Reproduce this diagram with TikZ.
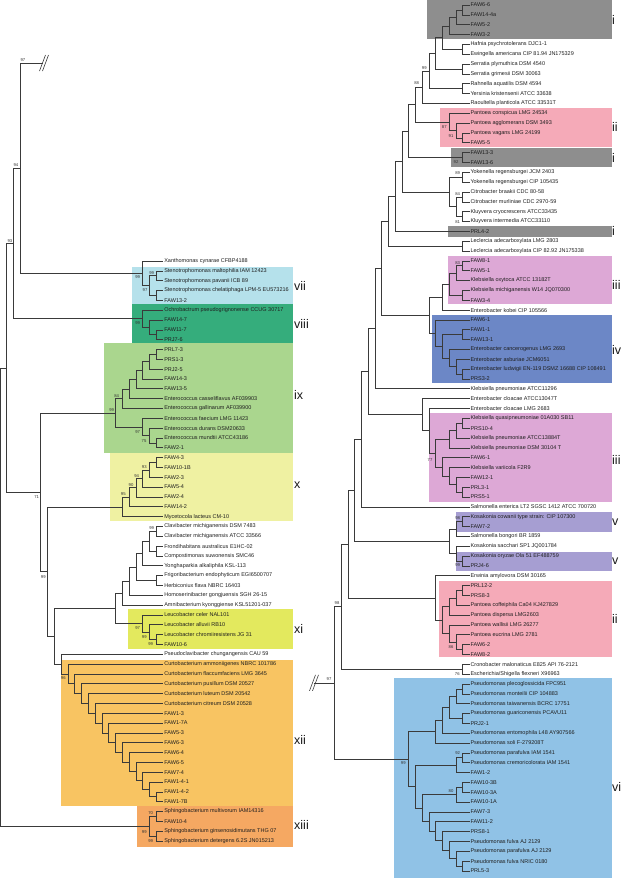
\documentclass[tikz,border=0pt]{standalone}
\usepackage{fontspec}
\setmainfont{Liberation Sans}
\usetikzlibrary{calc}
\definecolor{cI}{HTML}{8E8E8E}
\definecolor{cII}{HTML}{F5AAB8}
\definecolor{cIII}{HTML}{DDA8D6}
\definecolor{cIV}{HTML}{6C87C6}
\definecolor{cV}{HTML}{A69ED2}
\definecolor{cVI}{HTML}{90C2E6}
\definecolor{cVII}{HTML}{B5E1EB}
\definecolor{cVIII}{HTML}{35AD7C}
\definecolor{cIX}{HTML}{AAD68E}
\definecolor{cX}{HTML}{EFF1A2}
\definecolor{cXI}{HTML}{E3E95E}
\definecolor{cXII}{HTML}{F8C462}
\definecolor{cXIII}{HTML}{F5A862}
\definecolor{lnc}{HTML}{3A3A3A}
\newcommand\ND[4]{%
  \path let \p1=(#3),\p2=(#4) in ({(#2)*1pt},{0.5*(\y1+\y2)}) coordinate (#1);
  \draw[br] (#1) |- (#3) (#1) |- (#4);}
\newcommand\NL[4]{\ND{#1}{163.1-6.8*#2}{#3}{#4}}
\newcommand\NR[4]{\ND{#1}{469.3-6.75*#2}{#3}{#4}}
\newcommand\LL[2]{\node[lf] (L#1) at (163.3,{261+(#1-1)*9.83}) {#2};}
\newcommand\RL[2]{\node[lf] (R#1) at (469.5,{5+(#1-1)*9.84}) {#2};}
\newcounter{bsc}
\newcommand\BS[3]{\stepcounter{bsc}\node[bs] (bs\arabic{bsc}) at (#1,#2) {#3};}
\newcommand\BX[6]{\fill[#6] (#2,#3) rectangle (#4,#5) coordinate (#1);}
\begin{document}
\begin{tikzpicture}[x=1pt,y=-1pt,
  br/.style={line width=0.6pt, draw=lnc},
  lf/.style={anchor=west, inner sep=0.8pt, font=\fontsize{5.5}{6}\selectfont, text=black!88},
  bs/.style={font=\fontsize{4.2}{4.5}\selectfont, inner sep=0pt, text=black!80},
  rom/.style={anchor=west, inner sep=0pt, font=\fontsize{12.5}{13}\selectfont, text=black!90},
  brk/.style={line width=0.6pt, draw=lnc}]
\useasboundingbox (0,0) rectangle (622,878);
% ---------- boxes left
\BX{bvii}{132}{266.7}{293}{304.3}{cVII}
\BX{bviii}{132}{304.3}{293}{343.3}{cVIII}
\BX{bix}{104.3}{343.3}{293}{452.7}{cIX}
\BX{bx}{110}{452.7}{293}{520.7}{cX}
\BX{bxi}{127.7}{609.3}{293}{648.5}{cXI}
\BX{bxii}{61}{660}{293}{806}{cXII}
\BX{bxiii}{136.7}{806}{293}{847.3}{cXIII}
% ---------- boxes right
\BX{bi1}{427}{0}{611.7}{39}{cI}
\BX{bii1}{439.5}{107.7}{611.7}{146.7}{cII}
\BX{bi2}{450.7}{147.7}{611.7}{167.3}{cI}
\BX{bi3}{447.7}{226}{611.7}{236.7}{cI}
\BX{biii1}{447.7}{256}{611.7}{304}{cIII}
\BX{biv}{432.3}{315}{611.7}{383.3}{cIV}
\BX{biii2}{429.3}{412.7}{611.7}{501.7}{cIII}
\BX{bv1}{456}{511.7}{611.7}{531.7}{cV}
\BX{bv2}{456}{551.5}{611.7}{571}{cV}
\BX{bii2}{439.3}{580.7}{611.7}{656.7}{cII}
\BX{bvi}{394}{678.3}{611.7}{878}{cVI}
% ---------- left leaves
\LL{1}{Xanthomonas cynarae CFBP4188}
\LL{2}{Stenotrophomonas maltophilia IAM 12423}
\LL{3}{Stenotrophomonas pavanii ICB 89}
\LL{4}{Stenotrophomonas chelatiphaga LPM-5 EU573216}
\LL{5}{FAW13-2}
\LL{6}{Ochrobactrum pseudogrignonense CCUG 30717}
\LL{7}{FAW14-7}
\LL{8}{FAW11-7}
\LL{9}{PRJ7-6}
\LL{10}{PRL7-3}
\LL{11}{PRS1-3}
\LL{12}{PRJ2-5}
\LL{13}{FAW14-3}
\LL{14}{FAW13-5}
\LL{15}{Enterococcus casseliflavus AF039903}
\LL{16}{Enterococcus gallinarum AF039900}
\LL{17}{Enterococcus faecium LMG 11423}
\LL{18}{Enterococcus durans DSM20633}
\LL{19}{Enterococcus mundtii ATCC43186}
\LL{20}{FAW2-1}
\LL{21}{FAW4-3}
\LL{22}{FAW10-1B}
\LL{23}{FAW2-3}
\LL{24}{FAW5-4}
\LL{25}{FAW2-4}
\LL{26}{FAW14-2}
\LL{27}{Mycetocola lacteus CM-10}
\LL{28}{Clavibacter michiganensis DSM 7483}
\LL{29}{Clavibacter michiganensis ATCC 33566}
\LL{30}{Frondihabitans australicus E1HC-02}
\LL{31}{Compostimonas suwonensis SMC46}
\LL{32}{Yonghaparkia alkaliphila KSL-113}
\LL{33}{Frigoribacterium endophyticum EGI6500707}
\LL{34}{Herbiconiux flava NBRC 16403}
\LL{35}{Homoserinibacter gongjuensis SGH 26-15}
\LL{36}{Amnibacterium kyonggiense KSL51201-037}
\LL{37}{Leucobacter celer NAL101}
\LL{38}{Leucobacter alluvii RB10}
\LL{39}{Leucobacter chromiiresistens JG 31}
\LL{40}{FAW10-6}
\LL{41}{Pseudoclavibacter chungangensis CAU 59}
\LL{42}{Curtobacterium ammoniigenes NBRC 101786}
\LL{43}{Curtobacterium flaccumfaciens LMG 3645}
\LL{44}{Curtobacterium pusillum DSM 20527}
\LL{45}{Curtobacterium luteum DSM 20542}
\LL{46}{Curtobacterium citreum DSM 20528}
\LL{47}{FAW1-3}
\LL{48}{FAW1-7A}
\LL{49}{FAW5-3}
\LL{50}{FAW6-3}
\LL{51}{FAW6-4}
\LL{52}{FAW6-5}
\LL{53}{FAW7-4}
\LL{54}{FAW1-4-1}
\LL{55}{FAW1-4-2}
\LL{56}{FAW1-7B}
\LL{57}{Sphingobacterium multivorum IAM14316}
\LL{58}{FAW10-4}
\LL{59}{Sphingobacterium ginsenosidimutans THG 07}
\LL{60}{Sphingobacterium detergens 6.2S JN015213}
% ---------- left tree
\NL{a1}{1}{L2}{L3}
\NL{a2}{1}{L4}{L5}
\NL{a3}{2}{a1}{a2}
\NL{a4}{3}{L1}{a3}
\NL{b1}{1}{L8}{L9}
\NL{b2}{2}{L7}{b1}
\NL{b3}{3}{L6}{b2}
\NL{c1}{1}{L10}{L11}
\NL{c2}{2}{c1}{L12}
\NL{c3}{3}{c2}{L13}
\NL{c4}{4}{c3}{L14}
\NL{c5}{5}{c4}{L15}
\NL{c6}{6}{c5}{L16}
\NL{c7}{1}{L19}{L20}
\NL{c8}{2}{L18}{c7}
\NL{c9}{3}{L17}{c8}
\NL{c10}{7}{c6}{c9}
\NL{d1}{1}{L21}{L22}
\NL{d2}{2}{d1}{L23}
\NL{d3}{3}{d2}{L24}
\NL{d4}{4}{d3}{L25}
\NL{d5}{5}{d4}{L26}
\NL{d6}{6}{d5}{L27}
\NL{e1}{1}{L28}{L29}
\NL{e2}{1}{L30}{L31}
\NL{e3}{2}{e1}{e2}
\NL{e4}{3}{e3}{L32}
\NL{e5}{1}{L33}{L34}
\NL{e6}{4}{e4}{e5}
\NL{e7}{5}{e6}{L35}
\NL{e8}{6}{e7}{L36}
\NL{f1}{1}{L39}{L40}
\NL{f2}{2}{L38}{f1}
\NL{f3}{3}{L37}{f2}
\NL{f4}{7}{e8}{f3}
\NL{g14}{1}{L55}{L56}
\NL{g13}{2}{L54}{g14}
\NL{g12}{3}{L53}{g13}
\NL{g11}{4}{L52}{g12}
\NL{g10}{5}{L51}{g11}
\NL{g9}{6}{L50}{g10}
\NL{g8}{7}{L49}{g9}
\NL{g7}{8}{L48}{g8}
\NL{g6}{9}{L47}{g7}
\NL{g5}{10}{L46}{g6}
\NL{g4}{11}{L45}{g5}
\NL{g3}{12}{L44}{g4}
\NL{g2}{13}{L43}{g3}
\NL{g1}{14}{L42}{g2}
\NL{g0}{15}{L41}{g1}
\NL{h1}{16}{f4}{g0}
\NL{h2}{17}{d6}{h1}
\NL{h3}{18}{c10}{h2}
\NL{i1}{1}{L57}{L58}
\NL{i2}{1}{L59}{L60}
\NL{i3}{2}{i1}{i2}
\coordinate (brkL) at (43,63);
\NL{m97}{21}{brkL}{a4}
\NL{m94}{22}{m97}{b3}
\NL{m93}{23}{m94}{h3}
\ND{rootL}{0.5}{m93}{i3}
\draw[brk] ([shift={(-3.5,8)}]brkL) -- ([shift={(2.5,-8)}]brkL)
           ([shift={(-0.5,8)}]brkL) -- ([shift={(5.5,-8)}]brkL);
% ---------- right leaves
\RL{1}{FAW6-6}
\RL{2}{FAW14-4a}
\RL{3}{FAW5-2}
\RL{4}{FAW3-2}
\RL{5}{Hafnia psychrotolerans DJC1-1}
\RL{6}{Ewingella americana CIP 81.94 JN175329}
\RL{7}{Serratia plymuthica DSM 4540}
\RL{8}{Serratia grimesii DSM 30063}
\RL{9}{Rahnella aquatilis DSM 4594}
\RL{10}{Yersinia kristensenii ATCC 33638}
\RL{11}{Raoultella planticola ATCC 33531T}
\RL{12}{Pantoea conspicua LMG 24534}
\RL{13}{Pantoea agglomerans DSM 3493}
\RL{14}{Pantoea vagans LMG 24199}
\RL{15}{FAW5-5}
\RL{16}{FAW13-3}
\RL{17}{FAW13-6}
\RL{18}{Yokenella regensburgei JCM 2403}
\RL{19}{Yokenella regensburgei CIP 105435}
\RL{20}{Citrobacter braakii CDC 80-58}
\RL{21}{Citrobacter murliniae CDC 2970-59}
\RL{22}{Kluyvera cryocrescens ATCC33435}
\RL{23}{Kluyvera intermedia ATCC33110}
\RL{24}{PRL4-2}
\RL{25}{Leclercia adecarboxylata LMG 2803}
\RL{26}{Leclercia adecarboxylata CIP 82.92 JN175338}
\RL{27}{FAW8-1}
\RL{28}{FAW5-1}
\RL{29}{Klebsiella oxytoca ATCC 13182T}
\RL{30}{Klebsiella michiganensis W14 JQ070300}
\RL{31}{FAW3-4}
\RL{32}{Enterobacter kobei CIP 105566}
\RL{33}{FAW6-1}
\RL{34}{FAW1-1}
\RL{35}{FAW13-1}
\RL{36}{Enterobacter cancerogenus LMG 2693}
\RL{37}{Enterobacter asburiae JCM6051}
\RL{38}{Enterobacter ludwigii EN-119 DSMZ 16688 CIP 108491}
\RL{39}{PRS3-2}
\RL{40}{Klebsiella pneumoniae ATCC11296}
\RL{41}{Enterobacter cloacae ATCC13047T}
\RL{42}{Enterobacter cloacae LMG 2683}
\RL{43}{Klebsiella quasipneumoniae 01A030 SB11}
\RL{44}{PRS10-4}
\RL{45}{Klebsiella pneumoniae ATCC13884T}
\RL{46}{Klebsiella pneumoniae DSM 30104 T}
\RL{47}{FAW6-1}
\RL{48}{Klebsiella variicola F2R9}
\RL{49}{FAW12-1}
\RL{50}{PRL3-1}
\RL{51}{PRS5-1}
\RL{52}{Salmonella enterica LT2 SGSC 1412 ATCC 700720}
\RL{53}{Kosakonia cowanii type strain: CIP 107300}
\RL{54}{FAW7-2}
\RL{55}{Salmonella bongori BR 1859}
\RL{56}{Kosakonia sacchari SP1 JQ001784}
\RL{57}{Kosakonia oryzae Ola 51 EF488759}
\RL{58}{PRJ4-6}
\RL{59}{Erwinia amylovora DSM 30165}
\RL{60}{PRL12-2}
\RL{61}{PRS8-3}
\RL{62}{Pantoea coffeiphila Ca04 KJ427829}
\RL{63}{Pantoea dispersa LMG2603}
\RL{64}{Pantoea wallisii LMG 26277}
\RL{65}{Pantoea eucrina LMG 2781}
\RL{66}{FAW6-2}
\RL{67}{FAW8-2}
\RL{68}{Cronobacter malonaticus E825 API 76-2121}
\RL{69}{Escherichia/Shigella flexneri X96963}
\RL{70}{Pseudomonas plecoglossicida FPC951}
\RL{71}{Pseudomonas monteilii CIP 104883}
\RL{72}{Pseudomonas taiwanensis BCRC 17751}
\RL{73}{Pseudomonas guariconensis PCAVU11}
\RL{74}{PRJ2-1}
\RL{75}{Pseudomonas entomophila L48 AY907566}
\RL{76}{Pseudomonas soli F-279208T}
\RL{77}{Pseudomonas parafulva IAM 1541}
\RL{78}{Pseudomonas cremoricolorata IAM 1541}
\RL{79}{FAW1-2}
\RL{80}{FAW10-3B}
\RL{81}{FAW10-3A}
\RL{82}{FAW10-1A}
\RL{83}{FAW7-3}
\RL{84}{FAW11-2}
\RL{85}{PRS8-1}
\RL{86}{Pseudomonas fulva AJ 2129}
\RL{87}{Pseudomonas parafulva AJ 2129}
\RL{88}{Pseudomonas fulva NRIC 0180}
\RL{89}{PRL5-3}
% ---------- right tree
\NR{p1}{1}{R1}{R2}
\NR{p2}{2}{p1}{R3}
\NR{p3}{3}{p2}{R4}
\NR{p4}{1}{R5}{R6}
\NR{p5}{4}{p3}{p4}
\NR{p6}{1}{R7}{R8}
\NR{p7}{5}{p5}{p6}
\NR{p8}{1}{R9}{R10}
\NR{p9}{6}{p7}{p8}
\NR{p10}{7}{p9}{R11}
\NR{q1}{1}{R14}{R15}
\NR{q2}{2}{R13}{q1}
\NR{q3}{3}{R12}{q2}
\NR{p11}{8}{p10}{q3}
\NR{r1}{1}{R16}{R17}
\NR{p12}{9}{p11}{r1}
\NR{s1}{1}{R18}{R19}
\NR{s2}{1}{R20}{R21}
\NR{s3}{1}{R22}{R23}
\NR{s4}{2}{s2}{s3}
\NR{s5}{3}{s1}{s4}
\NR{p13}{10}{p12}{s5}
\NR{p14}{11}{p13}{R24}
\NR{t1}{1}{R25}{R26}
\NR{p15}{12}{p14}{t1}
\NR{u1}{1}{R27}{R28}
\NR{u2}{2}{u1}{R29}
\NR{u3}{1}{R30}{R31}
\NR{u4}{3}{u2}{u3}
\NR{u5}{4}{u4}{R32}
\NR{v1}{1}{R34}{R35}
\NR{v2}{1}{R38}{R39}
\NR{v3}{2}{R37}{v2}
\NR{v4}{3}{R36}{v3}
\NR{v5}{4}{v1}{v4}
\NR{v6}{5}{R33}{v5}
\NR{u6}{6}{u5}{v6}
\NR{p16}{13}{p15}{u6}
\NR{p17}{14}{p16}{R40}
\NR{w1}{1}{R43}{R44}
\NR{w2}{2}{w1}{R45}
\NR{w3}{3}{w2}{R46}
\NR{w4}{1}{R50}{R51}
\NR{w5}{2}{R49}{w4}
\NR{w6}{3}{R48}{w5}
\NR{w7}{4}{R47}{w6}
\NR{w8}{5}{w3}{w7}
\NR{w9}{6}{R42}{w8}
\NR{w10}{7}{R41}{w9}
\NR{p18}{15}{p17}{w10}
\NR{p19}{16}{p18}{R52}
\NR{x1}{1}{R53}{R54}
\NR{x2}{2}{x1}{R55}
\NR{x3}{1}{R57}{R58}
\NR{x4}{2}{R56}{x3}
\NR{x5}{3}{x2}{x4}
\NR{p20}{17}{p19}{x5}
\NR{y1}{1}{R60}{R61}
\NR{y2}{2}{y1}{R62}
\NR{y3}{3}{y2}{R63}
\NR{y4}{1}{R66}{R67}
\NR{y5}{2}{R65}{y4}
\NR{y6}{3}{R64}{y5}
\NR{y7}{4}{y3}{y6}
\NR{y8}{5}{R59}{y7}
\NR{p21}{18}{p20}{y8}
\NR{z1}{1}{R68}{R69}
\NR{p22}{19}{p21}{z1}
\NR{aa1}{1}{R70}{R71}
\NR{aa2}{2}{aa1}{R72}
\NR{aa3}{1}{R73}{R74}
\NR{aa4}{3}{aa2}{aa3}
\NR{aa5}{4}{aa4}{R75}
\NR{aa6}{5}{aa5}{R76}
\NR{bb1}{1}{R77}{R78}
\NR{bb2}{2}{bb1}{R79}
\NR{cc1}{1}{R80}{R81}
\NR{cc2}{2}{cc1}{R82}
\NR{dd1}{1}{R88}{R89}
\NR{dd2}{2}{R87}{dd1}
\NR{dd3}{3}{R86}{dd2}
\NR{dd4}{4}{R85}{dd3}
\NR{dd5}{5}{R84}{dd4}
\NR{dd6}{6}{R83}{dd5}
\NR{cc3}{7}{cc2}{dd6}
\NR{bb3}{8}{bb2}{cc3}
\NR{vi}{9}{aa6}{bb3}
\NR{p23}{20}{p22}{vi}
\coordinate (xRb) at (314,0);
\coordinate (brkR) at (p23 -| xRb);
\draw[br] (brkR) -- (p23);
\draw[brk] ([shift={(-4.5,8)}]brkR) -- ([shift={(1.5,-8)}]brkR)
           ([shift={(-1.5,8)}]brkR) -- ([shift={(4.5,-8)}]brkR);
% ---------- bootstrap values left
\BS{23}{60}{97}
\BS{16}{165}{94}
\BS{10}{241}{93}
\BS{151.7}{272.7}{99}
\BS{137.7}{277.5}{99}
\BS{145}{290}{97}
\BS{137.7}{323.3}{99}
\BS{116.7}{395.7}{84}
\BS{111.7}{410}{99}
\BS{137.7}{431.7}{97}
\BS{144}{441}{75}
\BS{144.3}{466.7}{93}
\BS{136.7}{475.7}{94}
\BS{131}{485}{90}
\BS{123.3}{494}{95}
\BS{36.7}{496.7}{71}
\BS{151.7}{528.3}{99}
\BS{43.3}{576.7}{99}
\BS{137.7}{628.3}{97}
\BS{144.3}{636.7}{99}
\BS{150.7}{644}{99}
\BS{63.3}{678.3}{96}
\BS{150.7}{813.3}{70}
\BS{144.3}{831.7}{99}
\BS{150.7}{841}{99}
% ---------- bootstrap values right
\BS{424.3}{68.3}{99}
\BS{416.7}{83.3}{88}
\BS{444.3}{126.7}{87}
\BS{451}{136}{91}
\BS{456}{161.7}{92}
\BS{457.7}{173.3}{89}
\BS{457.7}{194}{84}
\BS{457.7}{221.7}{81}
\BS{457.7}{262.7}{83}
\BS{430}{460}{77}
\BS{457.7}{518.3}{98}
\BS{457.7}{565}{99}
\BS{451}{646.7}{86}
\BS{457.3}{674}{76}
\BS{457.7}{753.3}{92}
\BS{451}{791}{80}
\BS{403.3}{763.3}{99}
\BS{337}{603}{98}
\BS{329}{679}{97}
% ---------- clade numerals
\node[rom] (nvii) at (294,285.5) {vii};
\node[rom] (nviii) at (294,323.6) {viii};
\node[rom] (nix) at (294,395) {ix};
\node[rom] (nx) at (294,485) {x};
\node[rom] (nxi) at (294,629) {xi};
\node[rom] (nxii) at (294,740) {xii};
\node[rom] (nxiii) at (294,825) {xiii};
\node[rom] (ni1) at (612,20) {i};
\node[rom] (nii1) at (612,127) {ii};
\node[rom] (ni2) at (612,157.5) {i};
\node[rom] (ni3) at (612,231.3) {i};
\node[rom] (niii1) at (612,285) {iii};
\node[rom] (niv) at (612,350) {iv};
\node[rom] (niii2) at (612,460) {iii};
\node[rom] (nv1) at (612,522) {v};
\node[rom] (nv2) at (612,561) {v};
\node[rom] (nii2) at (612,619) {ii};
\node[rom] (nvi) at (612,787) {vi};
\end{tikzpicture}
\end{document}
